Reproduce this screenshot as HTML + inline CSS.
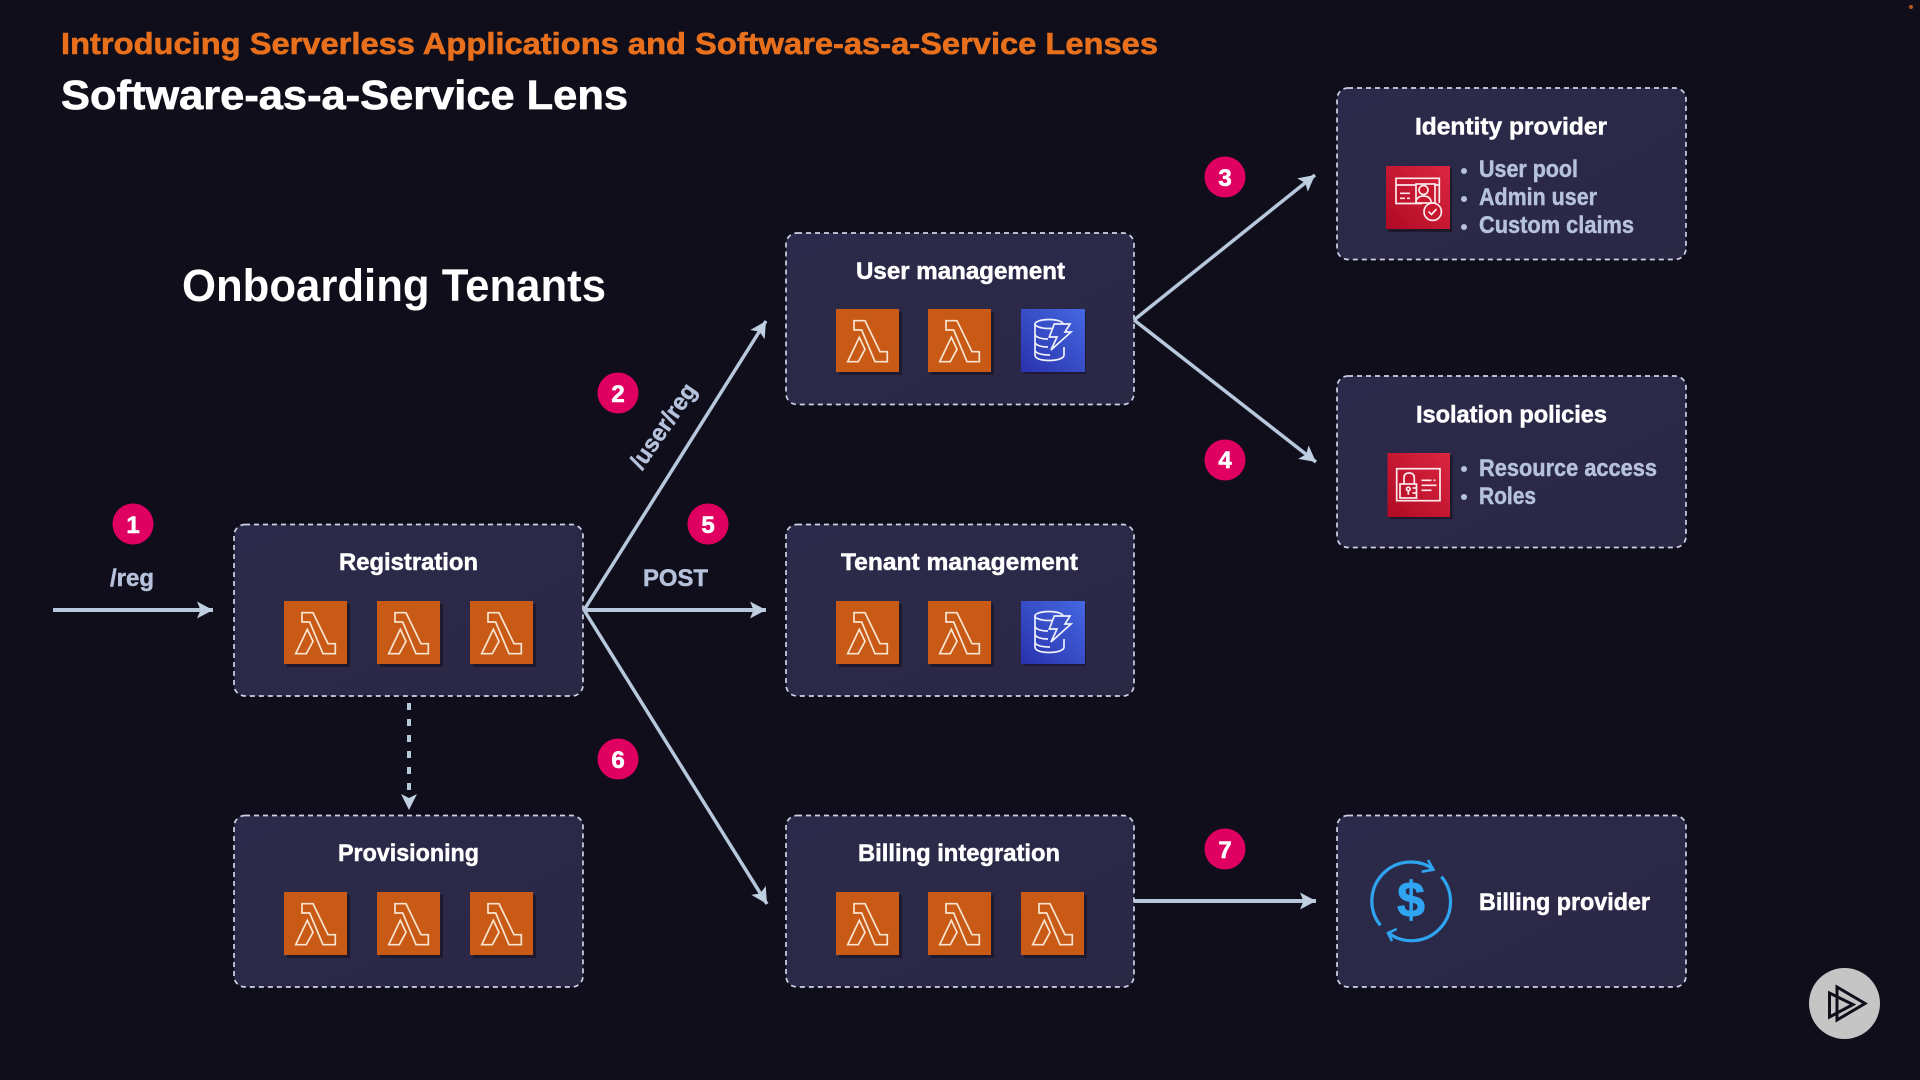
<!DOCTYPE html>
<html lang="en"><head><meta charset="utf-8"><title>Software-as-a-Service Lens</title>
<style>
html,body{margin:0;padding:0;background:#0f0e1a;width:1920px;height:1080px;overflow:hidden}
svg{display:block}
text{font-family:"Liberation Sans",sans-serif;font-weight:700}
.t{fill:#fff;stroke:#fff;stroke-width:.5;font-size:24px}
.b{fill:#b6c2dc;stroke:#b6c2dc;stroke-width:.45;font-size:24px}
.n{fill:#fff;stroke:#fff;stroke-width:.6;font-size:24px;text-anchor:middle}
.box{fill:url(#bg);stroke:#cdd2e6;stroke-width:1.7;stroke-dasharray:5 4}
</style></head><body>
<svg width="1920" height="1080" viewBox="0 0 1920 1080" xmlns="http://www.w3.org/2000/svg">
<defs>
<linearGradient id="bg" x1="0" y1="0" x2="1" y2="1"><stop offset="0" stop-color="#2c2a4a"/><stop offset="1" stop-color="#2a2845"/></linearGradient>
<linearGradient id="red" x1="0" y1="1" x2="1" y2="0"><stop offset="0" stop-color="#b00a24"/><stop offset="1" stop-color="#dc2640"/></linearGradient>
<linearGradient id="blue" x1="0" y1="1" x2="1" y2="0"><stop offset="0" stop-color="#2a32ad"/><stop offset="1" stop-color="#4468e0"/></linearGradient>
<marker id="ah" markerUnits="userSpaceOnUse" markerWidth="20" markerHeight="20" refX="16" refY="10" orient="auto"><path d="M0,1.5 L16,10 L0,18.5 L3.5,10 Z" fill="#c0cfe2"/></marker>
<g id="lam">
<rect x="3" y="3" width="63" height="63" fill="#140a14" opacity=".5"/>
<rect width="63" height="63" fill="#c85a16"/>
<path d="M18,11.7H29L44,42.7H51.3V52.7H39L25.7,21H18Z M23.3,28.3L29,40.3L22.3,52.7H11.7Z" fill="none" stroke="#f8e4cf" stroke-width="1.7" stroke-linejoin="miter"/>
</g>
<g id="dyn">
<rect x="3" y="3" width="62" height="62" fill="#140a24" opacity=".5"/>
<rect width="64" height="63" fill="url(#blue)"/>
<g fill="none" stroke="#eef0fa" stroke-width="1.7">
<ellipse cx="28" cy="15" rx="14" ry="4.5"/>
<path d="M14,15V46C14,49.5 20,51.5 28,51.5C36,51.5 43,49.5 43,46V38M14,25C14,28 20,30 27,30M14,33C14,36 20,38 27,38M14,41C14,44 20,46 29,46M42,15V19"/>
</g>
<path d="M33.3,15H49L44,23H50L30,41L36,28H28.3Z" fill="#3a50c8" stroke="#eef0fa" stroke-width="1.7" stroke-linejoin="miter"/>
</g>
</defs>

<rect width="1920" height="1080" fill="#0f0e1a"/>
<circle cx="1911" cy="7" r="2" fill="#b5561a"/>

<text x="61" y="54" fill="#e8701c" stroke="#e8701c" stroke-width=".6" font-size="31" textLength="1097" lengthAdjust="spacingAndGlyphs">Introducing Serverless Applications and Software-as-a-Service Lenses</text>
<text x="61" y="109" fill="#fff" stroke="#fff" stroke-width=".7" font-size="41" textLength="567" lengthAdjust="spacingAndGlyphs">Software-as-a-Service Lens</text>
<text x="182" y="301" fill="#fff" font-size="45" textLength="424" lengthAdjust="spacingAndGlyphs">Onboarding Tenants</text>

<!-- boxes -->
<rect class="box" x="234" y="524.5" width="349" height="171.5" rx="11"/>
<rect class="box" x="234" y="815.5" width="349" height="171.5" rx="11"/>
<rect class="box" x="786" y="233" width="348" height="171.5" rx="11"/>
<rect class="box" x="786" y="524.5" width="348" height="171.5" rx="11"/>
<rect class="box" x="786" y="815.5" width="348" height="171.5" rx="11"/>
<rect class="box" x="1337" y="88" width="349" height="171.5" rx="11"/>
<rect class="box" x="1337" y="376" width="349" height="171.5" rx="11"/>
<rect class="box" x="1337" y="815.5" width="349" height="171.5" rx="11"/>

<!-- arrows -->
<g stroke="#b8c8dc" fill="none">
<line x1="53" y1="610" x2="213" y2="610" stroke-width="4" marker-end="url(#ah)"/>
<line x1="584" y1="610" x2="766" y2="321" stroke-width="3.5" marker-end="url(#ah)"/>
<line x1="584" y1="610" x2="766" y2="610" stroke-width="4" marker-end="url(#ah)"/>
<line x1="584" y1="610" x2="767" y2="904" stroke-width="3.5" marker-end="url(#ah)"/>
<line x1="1134" y1="320" x2="1315" y2="175" stroke-width="3.5" marker-end="url(#ah)"/>
<line x1="1134" y1="320" x2="1316" y2="462" stroke-width="3.5" marker-end="url(#ah)"/>
<line x1="1134" y1="901" x2="1316" y2="901" stroke-width="4" marker-end="url(#ah)"/>
</g>
<line x1="409" y1="703" x2="409" y2="797" stroke="#b8c8dc" stroke-width="4" stroke-dasharray="7 9"/>
<path d="M401,794L409,798L417,794L409,810Z" fill="#c0cfe2"/>

<!-- connector labels -->
<text x="110" y="586" class="b" textLength="44" lengthAdjust="spacingAndGlyphs">/reg</text>
<text x="643" y="586" class="b" textLength="65" lengthAdjust="spacingAndGlyphs">POST</text>
<text transform="translate(642 471) rotate(-55.5)" class="b" textLength="98" lengthAdjust="spacingAndGlyphs">/user/reg</text>

<!-- badges -->
<g fill="#e00061">
<circle cx="133" cy="524" r="20.5"/><circle cx="618" cy="393" r="20.5"/><circle cx="708" cy="524" r="20.5"/>
<circle cx="1225" cy="177" r="20.5"/><circle cx="1225" cy="460" r="20.5"/><circle cx="618" cy="759" r="20.5"/><circle cx="1225" cy="849" r="20.5"/>
</g>
<text class="n" x="133" y="533">1</text><text class="n" x="618" y="402">2</text><text class="n" x="708" y="533">5</text>
<text class="n" x="1225" y="186">3</text><text class="n" x="1225" y="468">4</text><text class="n" x="618" y="768">6</text><text class="n" x="1225" y="858">7</text>

<!-- titles -->
<text class="t" x="339" y="570" textLength="139" lengthAdjust="spacingAndGlyphs">Registration</text>
<text class="t" x="338" y="861" textLength="141" lengthAdjust="spacingAndGlyphs">Provisioning</text>
<text class="t" x="856" y="279" textLength="209" lengthAdjust="spacingAndGlyphs">User management</text>
<text class="t" x="841" y="570" textLength="237" lengthAdjust="spacingAndGlyphs">Tenant management</text>
<text class="t" x="858" y="861" textLength="202" lengthAdjust="spacingAndGlyphs">Billing integration</text>
<text class="t" x="1415" y="134.5" textLength="192" lengthAdjust="spacingAndGlyphs">Identity provider</text>
<text class="t" x="1416" y="422.5" textLength="191" lengthAdjust="spacingAndGlyphs">Isolation policies</text>
<text class="t" x="1479" y="910" textLength="171" lengthAdjust="spacingAndGlyphs">Billing provider</text>

<!-- icons -->
<use href="#lam" x="284" y="601"/><use href="#lam" x="377" y="601"/><use href="#lam" x="470" y="601"/>
<use href="#lam" x="284" y="892"/><use href="#lam" x="377" y="892"/><use href="#lam" x="470" y="892"/>
<use href="#lam" x="836" y="309"/><use href="#lam" x="928" y="309"/><use href="#dyn" x="1021" y="309"/>
<use href="#lam" x="836" y="601"/><use href="#lam" x="928" y="601"/><use href="#dyn" x="1021" y="601"/>
<use href="#lam" x="836" y="892"/><use href="#lam" x="928" y="892"/><use href="#lam" x="1021" y="892"/>

<!-- identity icon -->
<g transform="translate(1386 166)">
<rect x="2" y="2" width="64" height="64" fill="#120814" opacity=".5"/>
<rect width="64" height="63" fill="url(#red)"/>
<g fill="none" stroke="#fbe9ec" stroke-width="1.7">
<path d="M36,37.5H10V12.3H53.3V37"/><path d="M10,19H53.3"/>
<rect x="30" y="18" width="19" height="19" fill="#c8172f"/>
<circle cx="37.5" cy="24" r="4.5"/><path d="M30,37C30,32.5 33,30 37.5,30C42,30 45,32.5 45,36"/>
<path d="M14,27.3H24M14,32.3H19M21,32.3H24"/>
<circle cx="46.7" cy="45.7" r="8.7" fill="#c8172f"/><path d="M42.5,45.5L45.5,48.5L50.5,43"/>
</g></g>
<!-- isolation icon -->
<g transform="translate(1387.5 453)">
<rect x="2" y="2" width="63" height="64" fill="#120814" opacity=".5"/>
<rect width="62.5" height="64" fill="url(#red)"/>
<g fill="none" stroke="#fbe9ec" stroke-width="1.7">
<rect x="9.2" y="15.7" width="43.3" height="32"/>
<path d="M16.5,31V25C16.5,21.5 18.5,20 21.6,20C24.8,20 26.8,21.5 26.8,25V31"/>
<rect x="12.5" y="31" width="16.5" height="14"/>
<circle cx="20.8" cy="36" r="1.8"/><path d="M20.8,37.8V41.7"/>
<path d="M25,35H29M25,40H29M34,27.3H44M46,27.3H48M34,32.3H49M34,37.3H44"/>
</g></g>

<!-- bullet lists -->
<g fill="#b6c2dc"><circle cx="1464" cy="171" r="3"/><circle cx="1464" cy="199" r="3"/><circle cx="1464" cy="227" r="3"/><circle cx="1464" cy="469" r="3"/><circle cx="1464" cy="497" r="3"/></g>
<text class="b" x="1479" y="177" textLength="99" lengthAdjust="spacingAndGlyphs">User pool</text>
<text class="b" x="1479" y="205" textLength="118" lengthAdjust="spacingAndGlyphs">Admin user</text>
<text class="b" x="1479" y="233" textLength="155" lengthAdjust="spacingAndGlyphs">Custom claims</text>
<text class="b" x="1479" y="476" textLength="178" lengthAdjust="spacingAndGlyphs">Resource access</text>
<text class="b" x="1479" y="504" textLength="57" lengthAdjust="spacingAndGlyphs">Roles</text>

<!-- billing icon -->
<g fill="none" stroke="#2fa4f0" stroke-width="3.2">
<path d="M1380.4,925.4A39,39 0 0 1 1433.4,869.2"/>
<path d="M1441.4,876.6A39,39 0 0 1 1387.9,932.7"/>
<path d="M1428,860L1433.4,869.7L1421.7,871.7" stroke-width="2.6"/>
<path d="M1396.7,929L1388,933L1392,941" stroke-width="2.6"/>
</g>
<text x="1411" y="917" text-anchor="middle" fill="#2fa4f0" stroke="#2fa4f0" stroke-width=".8" font-size="50">$</text>

<!-- logo -->
<ellipse cx="1844.5" cy="1003.5" rx="35.5" ry="35.5" fill="#c5c5c5"/>
<g fill="none" stroke="#0f0e1a" stroke-width="3">
<path d="M1829.5,993V1017L1853,1004.5Z"/><path d="M1837,987V1020L1865,1003.5Z"/>
</g>
</svg>
</body></html>
